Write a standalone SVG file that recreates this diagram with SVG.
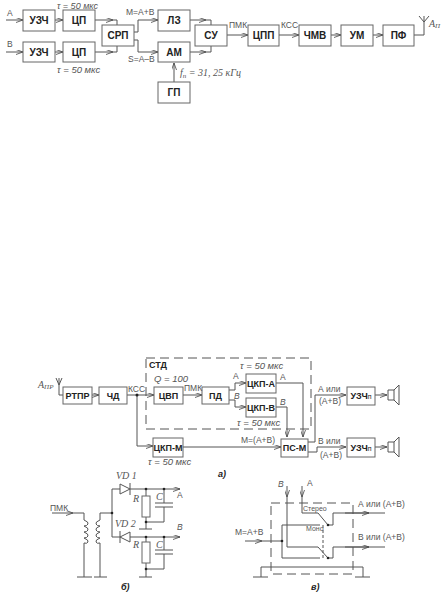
<svg xmlns="http://www.w3.org/2000/svg" width="446" height="595" viewBox="0 0 446 595">
<defs>
<marker id="a" viewBox="0 0 7 5" refX="7" refY="2.5" markerWidth="7" markerHeight="5" markerUnits="userSpaceOnUse" orient="auto"><path d="M0 0L7 2.500L0 5" fill="none" stroke="#444" stroke-width="0.8"/></marker>
</defs>
<style>
rect.b{fill:#fff;stroke:#666;stroke-width:1}
.c path{fill:none;stroke:#555;stroke-width:1}
.d{fill:none;stroke:#555;stroke-width:1;stroke-dasharray:9 5}
.ar{marker-end:url(#a)}
text{font-family:"Liberation Sans",Arial,sans-serif;fill:#222}
.t{font-size:10px;font-weight:bold;text-anchor:middle}
.s9{font-size:9px;font-weight:bold;text-anchor:middle}
.n{font-size:8.5px;fill:#555}
.i{font-size:9.5px;font-style:italic;fill:#555}
.v{font-family:"Liberation Serif",serif;font-size:10px;font-style:italic;fill:#555}
.w{font-size:7px;fill:#555}
.h{font-size:9px;font-weight:bold;font-style:italic}
.dot{fill:#222;stroke:none}
</style>
<rect width="446" height="595" fill="#fff"/>
<g id="connectors" class="c">
<path class="ar" d="M6 20H23"/><path class="ar" d="M6 52H23"/>
<path class="ar" d="M55 20H63"/><path class="ar" d="M55 52H63"/>
<path class="ar" d="M95 20H113"/><path d="M113 20H117V25"/>
<path class="ar" d="M95 52H113"/><path d="M113 52H117V46"/>
<path d="M134 32H138V20H150"/><path class="ar" d="M150 20H158"/>
<path d="M134 40H138V52H150"/><path class="ar" d="M150 52H158"/>
<path class="ar" d="M190 20H206"/><path d="M206 20H211V25"/>
<path class="ar" d="M190 52H206"/><path d="M206 52H211V46"/>
<path class="ar" d="M174 82V63"/>
<path class="ar" d="M227 35H248"/><path class="ar" d="M279 35H299"/><path class="ar" d="M331 35H341"/><path class="ar" d="M373 35H383"/>
<path d="M414 35H424V16M424 22L419 16M424 22L429 16"/>
<path d="M63 395H59V378M59 385L56 378M59 385L62 378"/>
<path class="ar" d="M92 395H99"/><path class="ar" d="M127 395H154"/><path class="ar" d="M183 395H202"/>
<path class="ar" d="M137 395V446H153"/><path class="ar" d="M183 447H281"/>
<path d="M229 390H235V383"/><path class="ar" d="M235 383H246"/><path d="M229 400H235V407"/><path class="ar" d="M235 407H246"/>
<path class="ar" d="M276 383H303V437"/><path class="ar" d="M276 407H287V437"/>
<path class="ar" d="M308 442H315V395H346"/><path class="ar" d="M308 452H317V447H346"/>
<path class="ar" d="M375 395H387"/><path class="ar" d="M375 447H387"/>
<path d="M388 390H394V400H388ZM394 390L399 385V405L394 400"/>
<path d="M388 442H394V452H388ZM394 442L399 437V457L394 452"/>
<path class="ar" d="M52 513H73"/>
<path d="M73 513H84V520M84 543V577M77 577H92"/>
<path d="M84 520q5 2 4 4t-4 2q5 2 4 4t-4 2q5 2 4 4t-4 2q5 2 4 4t-4 1"/>
<path d="M100 520q-5 2 -4 4t4 2q-5 2 -4 4t4 2q-5 2 -4 4t4 2q-5 2 -4 4t4 1"/>
<path d="M100 520V513H112M100 543V577M94 577H107"/>
<path d="M112 513V489H120M130 489H164"/><path class="ar" d="M164 489H180"/>
<path d="M112 513V537H120M130 537H164"/><path class="ar" d="M164 537H180"/>
<path d="M120 484V494L130 489ZM130 483V495"/>
<path d="M130 532V542L120 537ZM120 531V543"/>
<path d="M146 489V529M139 529H152M146 522H164V507M155 507H173M155 503H173M164 503V489"/>
<path d="M146 537V577M139 577H152M146 569H164V554M155 554H173M155 550H173M164 550V537"/>
<rect class="b" x="142" y="496" width="8" height="21"/>
<rect class="b" x="142" y="542" width="8" height="21"/>
<path class="d" d="M271 503H353V574H271Z"/>
<path d="M253 577H268M261 577V567H363V577M355 577H370"/>
<path class="ar" d="M287 486V497"/><path d="M287 497V547H318L328 558"/>
<path class="ar" d="M302 486V497"/><path d="M302 497V513H318L328 525"/>
<path class="ar" d="M245 541H262"/><path d="M262 541H282"/>
<path d="M282 541V525H320M282 541V558H320"/>
<path d="M328 525H333V513H385M328 558H333V547H385"/>
<path class="ar" d="M345 513H369"/><path class="ar" d="M345 547H369"/>
<path class="d" style="stroke-dasharray:3 2" d="M323 525V558"/>
<circle class="dot" cx="137" cy="395" r="1.500"/>
<circle class="dot" cx="112" cy="513" r="1.300"/>
<circle class="dot" cx="146" cy="489" r="1.300"/><circle class="dot" cx="164" cy="489" r="1.300"/>
<circle class="dot" cx="146" cy="522" r="1.300"/>
<circle class="dot" cx="146" cy="537" r="1.300"/><circle class="dot" cx="164" cy="537" r="1.300"/>
<circle class="dot" cx="146" cy="569" r="1.300"/>
<circle class="dot" cx="282" cy="541" r="1.300"/><circle class="dot" cx="328" cy="525" r="1.300"/><circle class="dot" cx="328" cy="558" r="1.300"/>
</g>
<path id="std-frame" class="d" d="M146 358H311V429H146Z"/>
<g id="uzch-a"><rect class="b" x="23" y="10" width="32" height="21"/><text class="t" x="39" y="24">УЗЧ</text></g>
<g id="cp-a"><rect class="b" x="63" y="10" width="32" height="21"/><text class="t" x="79" y="24">ЦП</text></g>
<g id="uzch-b"><rect class="b" x="23" y="42" width="32" height="20"/><text class="t" x="39" y="56">УЗЧ</text></g>
<g id="cp-b"><rect class="b" x="63" y="42" width="32" height="20"/><text class="t" x="79" y="56">ЦП</text></g>
<g id="srp"><rect class="b" x="102" y="25" width="32" height="21"/><text class="t" x="118" y="39">СРП</text></g>
<g id="lz"><rect class="b" x="158" y="10" width="32" height="21"/><text class="t" x="174" y="24">ЛЗ</text></g>
<g id="am"><rect class="b" x="158" y="42" width="32" height="20"/><text class="t" x="174" y="56">АМ</text></g>
<g id="su"><rect class="b" x="195" y="25" width="32" height="21"/><text class="t" x="211" y="39">СУ</text></g>
<g id="gp"><rect class="b" x="158" y="82" width="32" height="21"/><text class="t" x="174" y="96">ГП</text></g>
<g id="cpp"><rect class="b" x="248" y="25" width="31" height="21"/><text class="t" x="263.500" y="39">ЦПП</text></g>
<g id="chmv"><rect class="b" x="299" y="25" width="32" height="21"/><text class="t" x="315" y="39">ЧМВ</text></g>
<g id="um"><rect class="b" x="341" y="25" width="32" height="21"/><text class="t" x="357" y="39">УМ</text></g>
<g id="pf"><rect class="b" x="383" y="25" width="31" height="21"/><text class="t" x="398.500" y="39">ПФ</text></g>
<g id="rtpr"><rect class="b" x="63" y="387" width="29" height="17"/><text class="s9" x="77.500" y="399">РТПР</text></g>
<g id="chd"><rect class="b" x="99" y="387" width="28" height="17"/><text class="s9" x="113" y="399">ЧД</text></g>
<g id="cvp"><rect class="b" x="154" y="387" width="29" height="17"/><text class="s9" x="168.500" y="399">ЦВП</text></g>
<g id="pd"><rect class="b" x="202" y="387" width="27" height="17"/><text class="s9" x="215.500" y="399">ПД</text></g>
<g id="ckp-a"><rect class="b" x="246" y="374" width="30" height="19"/><text class="s9" x="261" y="387">ЦКП-А</text></g>
<g id="ckp-b"><rect class="b" x="246" y="398" width="30" height="19"/><text class="s9" x="261" y="411">ЦКП-В</text></g>
<g id="ckp-m"><rect class="b" x="153" y="438" width="30" height="19"/><text class="s9" x="168" y="451">ЦКП-М</text></g>
<g id="ps-m"><rect class="b" x="281" y="439" width="27" height="18"/><text class="s9" x="294.500" y="451">ПС-М</text></g>
<g id="uzch-n1"><rect class="b" x="347" y="387" width="28" height="18"/><text class="s9" x="361" y="399">УЗЧ<tspan font-size="7" font-weight="normal">п</tspan></text></g>
<g id="uzch-n2"><rect class="b" x="347" y="438" width="28" height="19"/><text class="s9" x="361" y="451">УЗЧ<tspan font-size="7" font-weight="normal">п</tspan></text></g>
<g id="labels">
<text class="n" x="7" y="16">А</text><text class="n" x="7" y="47">В</text>
<text class="i" x="57" y="8.500" font-size="9" style="font-size:9px">τ = 50 мкс</text><text class="i" x="57" y="73">τ = 50 мкс</text>
<text class="n" x="126" y="15">М=А+В</text><text class="n" x="128" y="62">S=А–В</text>
<text class="v" x="180" y="76">f<tspan font-size="7" dy="2">п</tspan><tspan dy="-2"> = 31, 25 кГц</tspan></text>
<text class="n" x="229" y="28">ПМК</text><text class="n" x="281" y="28">КСС</text>
<text class="v" x="429" y="27">А<tspan font-size="7" dy="1">П</tspan></text>
<text class="v" x="38" y="388">А<tspan font-size="7" dy="1">ПР</tspan></text>
<text x="149" y="368" font-size="9" font-weight="bold">СТД</text>
<text class="i" x="154" y="382">Q = 100</text>
<text class="n" x="128" y="392">КСС</text><text class="n" x="184" y="391">ПМК</text>
<text class="i" x="240" y="369">τ = 50 мкс</text><text class="i" x="237" y="426">τ = 50 мкс</text>
<text class="i" x="148" y="465">τ = 50 мкс</text>
<text class="n" x="233" y="379">А</text><text class="n" x="234" y="399" font-style="italic">В</text>
<text class="n" x="280" y="380">А</text><text class="n" x="280" y="405" font-style="italic">В</text>
<text class="n" x="241" y="443">М=(А+В)</text>
<text class="n" x="318" y="392">А или</text><text class="n" x="319" y="404">(А+В)</text>
<text class="n" x="318" y="444">В или</text><text class="n" x="320" y="458">(А+В)</text>
<text class="h" x="218" y="477">а)</text>
<text class="n" x="50" y="511">ПМК</text>
<text class="v" x="116" y="479">VD 1</text><text class="v" x="115" y="527">VD 2</text>
<text class="v" x="133" y="502">R</text><text class="v" x="133" y="548">R</text>
<text class="v" x="156" y="500">C</text><text class="v" x="156" y="548">C</text>
<text class="n" x="177" y="498">А</text><text class="n" x="177" y="530" font-style="italic">В</text>
<text class="h" x="121" y="590">б)</text>
<text class="n" x="278" y="487" font-style="italic">В</text><text class="n" x="307" y="486">А</text>
<text class="w" x="303" y="511">Стерео</text><text class="w" x="306" y="531">Моно</text>
<text class="n" x="235" y="535">М=А+В</text>
<text class="n" x="358" y="507">А или (А+В)</text><text class="n" x="358" y="540">В или (А+В)</text>
<text class="h" x="311" y="590">в)</text>
</g>
</svg>
